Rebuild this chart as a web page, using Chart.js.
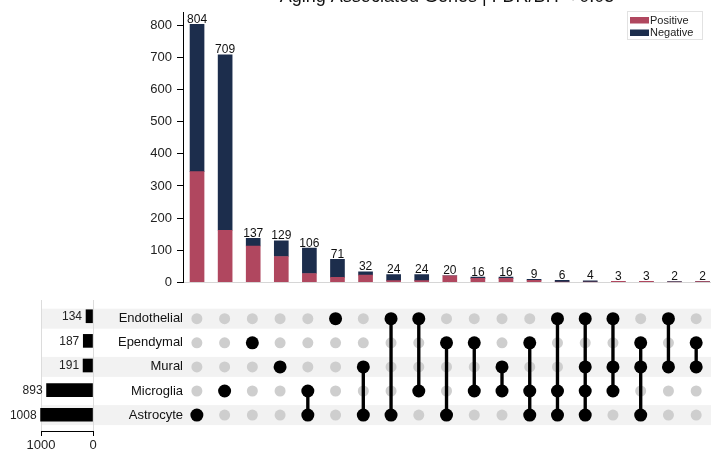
<!DOCTYPE html>
<html>
<head>
<meta charset="utf-8">
<script src="https://cdn.jsdelivr.net/npm/chart.js@4.4.1/dist/chart.umd.min.js"></script>
<style>
  html, body { margin: 0; padding: 0; background: #fff; overflow: hidden; }
  #wrap { position: relative; width: 711px; height: 450px; }
  canvas { position: absolute; }
</style>
</head>
<body>
<div id="wrap">
  <canvas id="bars" width="711" height="295" style="left:0;top:0"></canvas>
  <canvas id="matrix" width="711" height="155" style="left:0;top:295px"></canvas>
  <canvas id="sizes" width="120" height="155" style="left:0;top:295px"></canvas>
</div>
<script>
// ---- data ----
const titleText = 'Aging Associated Genes | FDR/BH < 0.05';
const setNames = ['Endothelial', 'Ependymal', 'Mural', 'Microglia', 'Astrocyte'];
const setSizes = [134, 187, 191, 893, 1008];
// member rows (indices into setNames) of each intersection, left to right
const intersections = [
  [4], [3], [1], [2], [3, 4], [0], [2, 4], [0, 4], [0, 3], [1, 4],
  [1, 3], [2, 3], [1, 3, 4], [0, 3, 4], [0, 2, 3, 4], [0, 2, 3], [1, 2, 4], [0, 2], [1, 2]
];
const positive = [345, 162, 113, 80, 27, 15, 22, 5, 5, 20, 12, 12, 6, 0, 0, 3, 3, 0, 2];
const negative = [459, 547, 24, 49, 79, 56, 10, 19, 19, 0, 4, 4, 3, 6, 4, 0, 0, 2, 0];
const countTicks = [0, 100, 200, 300, 400, 500, 600, 700, 800];
const sizeTicks = [0, 1000];

// ---- styling ----
const FONT = "'Liberation Sans', Arial, Helvetica, sans-serif";
const PINK = '#b0475f';
const NAVY = '#1c2d4c';
Chart.defaults.font.family = FONT;
Chart.defaults.color = '#222';

// column range shared by the bar panel and the dot matrix
const X_MIN = -0.5, X_MAX = 18.3;
// row range shared by the dot matrix and the set-size panel
const R_MIN = -0.66, R_MAX = 4.66;

// ---- plugins ----
const totalsLabels = {
  id: 'totalsLabels',
  afterDatasetsDraw(chart) {
    const { ctx, scales: { x, y } } = chart;
    ctx.save();
    ctx.font = '12px ' + FONT;
    ctx.fillStyle = '#111';
    ctx.textAlign = 'center';
    ctx.textBaseline = 'alphabetic';
    positive.forEach((p, i) => {
      const total = p + negative[i];
      ctx.fillText(String(total), x.getPixelForValue(i), y.getPixelForValue(total) - 1.5);
    });
    ctx.restore();
  }
};

const titleAndLegend = {
  id: 'titleAndLegend',
  afterDraw(chart) {
    const { ctx, chartArea } = chart;
    ctx.save();
    // title
    ctx.font = '18px ' + FONT;
    ctx.fillStyle = '#111';
    ctx.textAlign = 'center';
    ctx.textBaseline = 'alphabetic';
    ctx.fillText(titleText, (chartArea.left + chartArea.right) / 2, 1.5);
    // legend box
    ctx.strokeStyle = '#e2e2e2';
    ctx.lineWidth = 1;
    ctx.strokeRect(627.5, 11.5, 75, 28);
    ctx.font = '11px ' + FONT;
    ctx.textAlign = 'left';
    ctx.textBaseline = 'middle';
    chart.data.datasets.forEach((ds, k) => {
      const top = 17 + k * 12.5;
      ctx.fillStyle = ds.backgroundColor;
      ctx.fillRect(630, top, 19, 6.5);
      ctx.fillStyle = '#222';
      ctx.fillText(ds.label, 650, top + 3.5);
    });
    ctx.restore();
  }
};

const rowBands = {
  id: 'rowBands',
  beforeDraw(chart) {
    const { ctx, scales: { y } } = chart;
    ctx.save();
    ctx.fillStyle = '#f2f2f2';
    setNames.forEach((_, r) => {
      if (r % 2 !== 0) return;
      const c = y.getPixelForValue(r);
      ctx.fillRect(41, c - 10, chart.width - 41, 20);
    });
    ctx.restore();
  }
};

const sizeLabels = {
  id: 'sizeLabels',
  afterDatasetsDraw(chart) {
    const { ctx, scales: { x, y } } = chart;
    ctx.save();
    ctx.font = '12px ' + FONT;
    ctx.fillStyle = '#222';
    ctx.textAlign = 'right';
    ctx.textBaseline = 'middle';
    setSizes.forEach((v, i) => {
      ctx.fillText(String(v), x.getPixelForValue(v) - 4, y.getPixelForValue(i) + 0.5);
    });
    ctx.restore();
  }
};

// ---- intersection size bars ----
new Chart(document.getElementById('bars'), {
  type: 'bar',
  data: {
    datasets: [
      { label: 'Positive', data: positive.map((v, i) => ({ x: i, y: v })), backgroundColor: PINK, barThickness: 14 },
      { label: 'Negative', data: negative.map((v, i) => ({ x: i, y: v })), backgroundColor: NAVY, barThickness: 14 }
    ]
  },
  options: {
    responsive: false,
    animation: false,
    layout: { padding: { top: 12, bottom: 9, left: 0, right: 0 } },
    plugins: { legend: { display: false }, tooltip: { enabled: false } },
    scales: {
      x: {
        type: 'linear', min: X_MIN, max: X_MAX, stacked: true, offset: false,
        grid: { display: false, offset: false },
        ticks: { display: false },
        border: { display: true, color: '#d6d6d6' },
        afterFit(s) { s.height = 0; }
      },
      y: {
        stacked: true, min: 0, max: 840,
        afterBuildTicks(s) { s.ticks = countTicks.map(v => ({ value: v })); },
        grid: { drawOnChartArea: false, drawTicks: true, tickLength: 6, color: '#000' },
        border: { display: true, color: '#000', width: 1 },
        ticks: { padding: 5, font: { size: 13 }, color: '#222' },
        afterFit(s) { s.width = 183; }
      }
    }
  },
  plugins: [totalsLabels, titleAndLegend]
});

// ---- membership matrix ----
const memberDots = [], emptyDots = [], links = [];
intersections.forEach((m, i) => {
  setNames.forEach((_, r) => {
    (m.includes(r) ? memberDots : emptyDots).push({ x: i, y: r });
  });
  if (m.length > 1) links.push({ x: i, y: [Math.min(...m), Math.max(...m)] });
});

new Chart(document.getElementById('matrix'), {
  type: 'bar',
  data: {
    datasets: [
      { type: 'scatter', data: memberDots, pointRadius: 6.5, pointBackgroundColor: '#000', pointBorderColor: 'rgba(0,0,0,0)', pointBorderWidth: 0, order: 0 },
      { type: 'bar', data: links, backgroundColor: '#000', barThickness: 2.7, order: 1 },
      { type: 'scatter', data: emptyDots, pointRadius: 5.5, pointBackgroundColor: '#cecece', pointBorderColor: 'rgba(0,0,0,0)', pointBorderWidth: 0, order: 2 }
    ]
  },
  options: {
    responsive: false,
    animation: false,
    layout: { padding: { top: 5, bottom: 19, left: 0, right: 0 } },
    plugins: { legend: { display: false }, tooltip: { enabled: false } },
    scales: {
      x: { type: 'linear', min: X_MIN, max: X_MAX, offset: false, display: false },
      y: {
        type: 'linear', min: R_MIN, max: R_MAX, reverse: true, offset: false,
        afterBuildTicks(s) { s.ticks = setNames.map((_, i) => ({ value: i })); },
        ticks: { callback: v => setNames[v], font: { size: 13 }, color: '#111', padding: 0 },
        grid: { display: false, drawTicks: false },
        border: { display: false },
        afterFit(s) { s.width = 183; }
      }
    }
  },
  plugins: [rowBands]
});

// ---- set sizes ----
new Chart(document.getElementById('sizes'), {
  type: 'bar',
  data: {
    datasets: [{ data: setSizes.map((v, i) => ({ x: v, y: i })), backgroundColor: '#000', barThickness: 13, clip: false }]
  },
  options: {
    indexAxis: 'y',
    responsive: false,
    animation: false,
    layout: { padding: { top: 5, bottom: 0, left: 41, right: 27 } },
    plugins: { legend: { display: false }, tooltip: { enabled: false } },
    scales: {
      x: {
        type: 'linear', min: 0, max: 1000, reverse: true,
        afterBuildTicks(s) { s.ticks = sizeTicks.map(v => ({ value: v })); },
        grid: { color: '#dcdcdc', tickColor: '#000', tickLength: 5, drawTicks: true },
        border: { display: true, color: '#000' },
        ticks: { callback: v => String(v), font: { size: 13 }, color: '#222', padding: 2, maxRotation: 0 },
        afterFit(s) { s.height = 19; }
      },
      y: { type: 'linear', min: R_MIN, max: R_MAX, reverse: true, offset: false, display: false }
    }
  },
  plugins: [sizeLabels]
});
</script>
</body>
</html>
